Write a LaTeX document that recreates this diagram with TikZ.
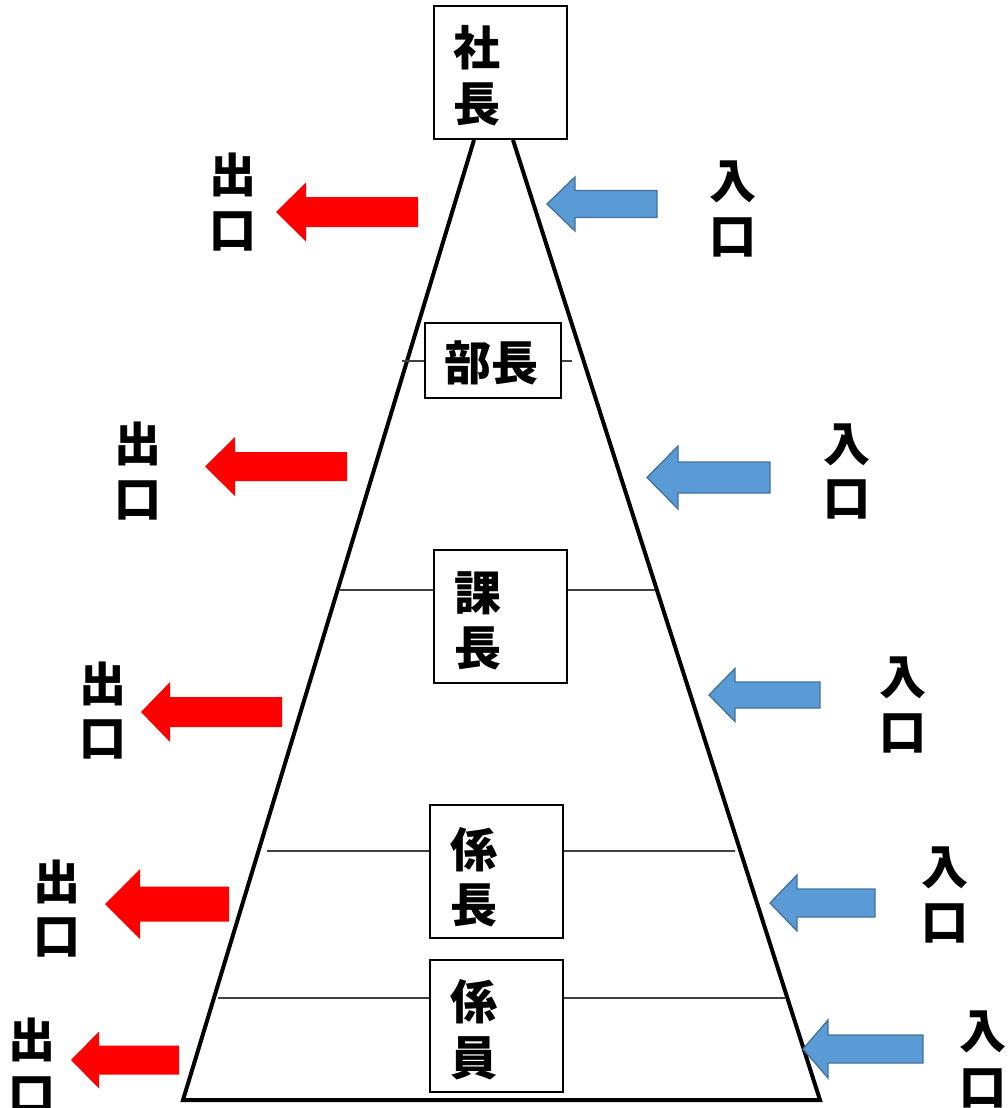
\documentclass[tikz,border=0pt]{standalone}
\usepackage{fontspec}
\newfontfamily\cjk{Noto Sans CJK JP}
\begin{document}
\begin{tikzpicture}[x=1pt,y=-1pt,
  posbox/.style={line width=2.4pt, draw=black, fill=white, inner sep=0pt},
  ch/.style={font=\cjk\bfseries\fontsize{47}{56}\selectfont, inner sep=0pt, anchor=center},
  tri/.style={line width=4pt, line join=miter},
  levelline/.style={line width=1.1pt, draw=black!75},
  outarrow/.style={fill=red},
  inarrow/.style={fill={rgb,255:red,91;green,155;blue,213}, draw={rgb,255:red,65;green,113;blue,156}, line width=1.3pt}
]
\useasboundingbox (0,0) rectangle (1008,1108);
\newcommand\blockarrow[7]{%
  \path[#1] (#2,#5) -- (#3,#5-#7) -- (#3,#5-#6) -- (#4,#5-#6) -- (#4,#5+#6) -- (#3,#5+#6) -- (#3,#5+#7) -- cycle;}
% pyramid
\coordinate (tl) at (474,140);
\coordinate (tr) at (513,140);
\coordinate (bl) at (183,1100);
\coordinate (br) at (820,1100);
\draw[tri] (tl) -- (bl) -- (br) -- (tr);
% boxes
\node[posbox, minimum width=133pt, minimum height=133pt] (b1) at (500.5,72.5) {};
\node[posbox, minimum width=136pt, minimum height=75pt] (b2) at (493,360.5) {};
\node[posbox, minimum width=133pt, minimum height=133pt] (b3) at (500.5,616.5) {};
\node[posbox, minimum width=133pt, minimum height=133pt] (b4) at (496.5,871.5) {};
\node[posbox, minimum width=133pt, minimum height=132pt] (b5) at (496.5,1026) {};
% level lines
\coordinate (l2a) at (402,361); \coordinate (l2b) at (572,361);
\coordinate (l3a) at (340,590); \coordinate (l3b) at (655,590);
\coordinate (l4a) at (267,851); \coordinate (l4b) at (735,851);
\coordinate (l5a) at (218,998); \coordinate (l5b) at (785,998);
\draw[levelline] (l2a) -- (b2.west |- l2a);
\draw[levelline] (b2.east |- l2b) -- (l2b);
\draw[levelline] (l3a) -- (b3.west |- l3a);
\draw[levelline] (b3.east |- l3b) -- (l3b);
\draw[levelline] (l4a) -- (b4.west |- l4a);
\draw[levelline] (b4.east |- l4b) -- (l4b);
\draw[levelline] (l5a) -- (b5.west |- l5a);
\draw[levelline] (b5.east |- l5b) -- (l5b);
% box texts
\node[ch] (t1a) at (477,48) {社};
\node[ch] (t1b) at (477,104) {長};
\node[ch] (t2) at (491,363) {部長};
\node[ch] (t3a) at (478,593) {課};
\node[ch] (t3b) at (478,648) {長};
\node[ch] (t4a) at (474,850) {係};
\node[ch] (t4b) at (474,905) {長};
\node[ch] (t5a) at (474,1002) {係};
\node[ch] (t5b) at (474,1058) {員};
% exit arrows (red)
\blockarrow{outarrow}{276}{306}{418}{212}{15}{29.5}
\blockarrow{outarrow}{205}{235}{347}{466.5}{14.5}{29.5}
\blockarrow{outarrow}{141}{170}{282}{712}{15}{30}
\blockarrow{outarrow}{105}{140}{229}{904}{17.5}{35}
\blockarrow{outarrow}{71}{99}{179}{1060}{14.5}{28.5}
% entry arrows (blue)
\blockarrow{inarrow}{547}{575}{657}{204}{13.5}{27}
\blockarrow{inarrow}{647}{678}{770}{477.5}{15.5}{31.5}
\blockarrow{inarrow}{709}{735}{820}{695}{13}{26.5}
\blockarrow{inarrow}{770}{797}{875}{903}{14}{28}
\blockarrow{inarrow}{803}{828}{923}{1049}{14}{29}
% exit labels
\node[ch] (o1a) at (233,175) {出}; \node[ch] (o1b) at (233,231) {口};
\node[ch] (o2a) at (138,444) {出}; \node[ch] (o2b) at (138,500) {口};
\node[ch] (o3a) at (103,684) {出}; \node[ch] (o3b) at (103,739) {口};
\node[ch] (o4a) at (57,882) {出};  \node[ch] (o4b) at (57,937) {口};
\node[ch] (o5a) at (32,1040) {出}; \node[ch] (o5b) at (32,1096) {口};
% entry labels
\node[ch] (i1a) at (733,182) {入}; \node[ch] (i1b) at (733,237) {口};
\node[ch] (i2a) at (847,445) {入}; \node[ch] (i2b) at (847,499) {口};
\node[ch] (i3a) at (903,678) {入}; \node[ch] (i3b) at (903,733) {口};
\node[ch] (i4a) at (945,868) {入}; \node[ch] (i4b) at (945,923) {口};
\node[ch] (i5a) at (983,1032) {入}; \node[ch] (i5b) at (983,1088) {口};
\end{tikzpicture}
\end{document}
